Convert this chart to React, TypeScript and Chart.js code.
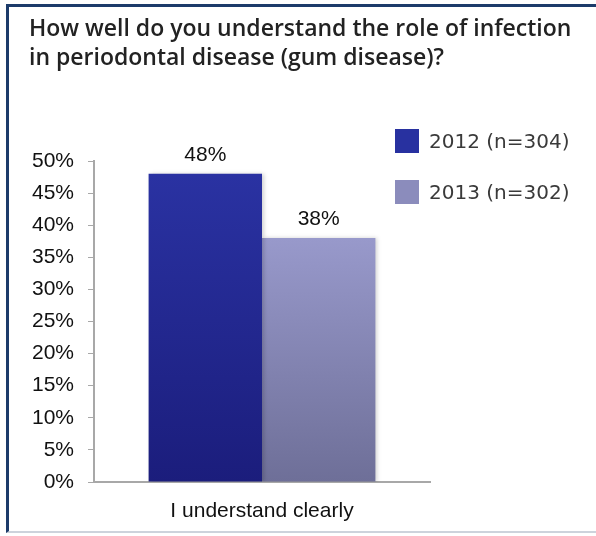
import React, { useEffect, useRef } from "react";
import { Chart, registerables } from "chart.js";

Chart.register(...registerables);

const titleLines = [
  "How well do you understand the role of infection",
  "in periodontal disease (gum disease)?",
];
const categories = ["I understand clearly"];
const seriesNames = ["2012 (n=304)", "2013 (n=302)"];
const values2012 = [48];
const values2013 = [38];
const yTickMax = 50;
const yTickStep = 5;

const legendColors = ["#2831a0", "#8b8cbc"];
const gradTop = ["#2a32a2", "#9899cb"];
const gradBottom = ["#1b1d7c", "#6e6f98"];

function barGradient(idx: number) {
  return (ctx: any) => {
    const chart = ctx.chart;
    const area = chart.chartArea;
    const ys = chart.scales?.y;
    if (!area || !ys) return gradTop[idx];
    const v = ctx.raw ?? 0;
    const top = ys.getPixelForValue(v);
    const bottom = ys.getPixelForValue(0);
    const g = chart.ctx.createLinearGradient(0, top, 0, bottom);
    g.addColorStop(0, gradTop[idx]);
    g.addColorStop(1, gradBottom[idx]);
    return g;
  };
}

const labelPlugin = {
  id: "valueLabels",
  beforeDatasetsDraw(chart: any) {
    const c = chart.ctx;
    c.save();
    c.shadowColor = "rgba(0,0,0,0.18)";
    c.shadowBlur = 4;
    c.shadowOffsetX = 2;
    c.shadowOffsetY = 0;
  },
  afterDatasetsDraw(chart: any) {
    const c = chart.ctx;
    c.restore();
    c.save();
    c.font = "21px 'Liberation Sans', Arial, sans-serif";
    c.fillStyle = "#111";
    c.textAlign = "center";
    c.textBaseline = "alphabetic";
    chart.data.datasets.forEach((ds: any, i: number) => {
      const meta = chart.getDatasetMeta(i);
      meta.data.forEach((bar: any, j: number) => {
        c.fillText(ds.data[j] + "%", bar.x, bar.y - 13);
      });
    });
    c.restore();
  },
};

export default function App() {
  const ref = useRef<HTMLCanvasElement | null>(null);
  useEffect(() => {
    if (!ref.current) return;
    const chart = new Chart(ref.current, {
      type: "bar",
      data: {
        labels: categories,
        datasets: [
          {
            label: seriesNames[0],
            data: values2012,
            backgroundColor: barGradient(0),
            borderWidth: 0,
            categoryPercentage: 0.675,
            barPercentage: 1,
          },
          {
            label: seriesNames[1],
            data: values2013,
            backgroundColor: barGradient(1),
            borderWidth: 0,
            categoryPercentage: 0.675,
            barPercentage: 1,
          },
        ],
      },
      options: {
        responsive: false,
        animation: false,
        devicePixelRatio: 1,
        layout: { padding: { left: 10, top: 161, right: 166, bottom: 0 } },
        plugins: {
          legend: { display: false },
          tooltip: { enabled: false },
          title: { display: false },
        },
        scales: {
          x: {
            grid: { display: false, drawTicks: false },
            border: { display: true, color: "#a8a8a8", width: 2 },
            ticks: {
              padding: 17,
              color: "#111",
              font: { size: 21, family: "'Liberation Sans', Arial, sans-serif" },
            },
            afterFit: (s: any) => {
              s.height = 54;
            },
          },
          y: {
            min: 0,
            max: yTickMax,
            grid: {
              drawOnChartArea: false,
              drawTicks: true,
              tickLength: 6,
              color: "#a8a8a8",
            },
            border: { display: true, color: "#a8a8a8", width: 2 },
            ticks: {
              stepSize: yTickStep,
              padding: 14,
              color: "#111",
              font: { size: 21, family: "'Liberation Sans', Arial, sans-serif" },
              callback: (v: any) => v + "%",
            },
            afterFit: (s: any) => {
              s.width = 84;
            },
          },
        },
      },
      plugins: [labelPlugin],
    });
    return () => chart.destroy();
  }, []);

  return (
    <div
      style={{
        position: "fixed",
        left: 0,
        top: 0,
        width: 596,
        height: 536,
        background: "#fff",
        overflow: "hidden",
      }}
    >
      <canvas
        ref={ref}
        width={596}
        height={536}
        style={{ position: "absolute", left: 0, top: 0, width: 596, height: 536 }}
      />
      <div
        style={{
          position: "absolute",
          left: 6,
          top: 4,
          width: 600,
          height: 529,
          borderTop: "3px solid #1c3b6a",
          borderLeft: "3px solid #1c3b6a",
          borderBottom: "2px solid #cdd3dc",
          boxSizing: "border-box",
          pointerEvents: "none",
        }}
      />
      <div
        style={{
          position: "absolute",
          left: 29,
          top: 13,
          fontFamily: "'Open Sans', Lato, sans-serif",
          fontWeight: 600,
          fontSize: 23,
          lineHeight: "29px",
          color: "#222",
          whiteSpace: "nowrap",
        }}
      >
        {titleLines.map((t, i) => (
          <div key={i}>{t}</div>
        ))}
      </div>
      {seriesNames.map((name, i) => (
        <div
          key={name}
          style={{
            position: "absolute",
            left: 395,
            top: 129 + i * 51,
            height: 24,
            display: "flex",
            alignItems: "center",
            whiteSpace: "nowrap",
          }}
        >
          <div style={{ width: 24, height: 24, background: legendColors[i] }} />
          <div
            style={{
              marginLeft: 10,
              fontFamily: "'DejaVu Sans', sans-serif",
              fontSize: 20,
              color: "#3a3a3a",
              lineHeight: "24px",
            }}
          >
            {name}
          </div>
        </div>
      ))}
    </div>
  );
}
